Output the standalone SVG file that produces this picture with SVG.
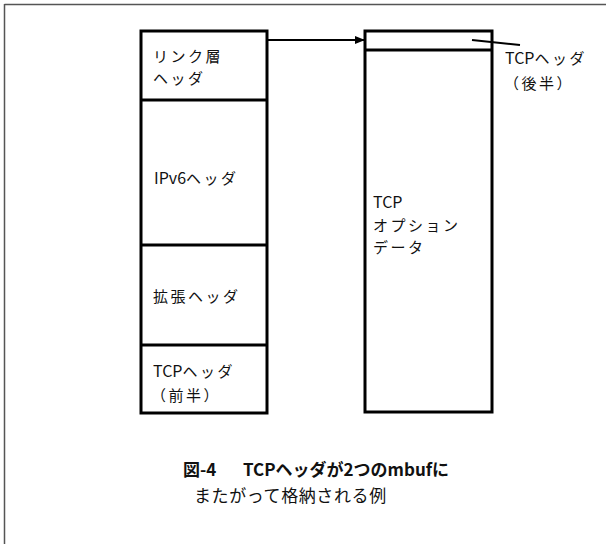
<svg xmlns="http://www.w3.org/2000/svg" width="610" height="544" viewBox="0 0 610 544">
<style>
.box{fill:#fff;stroke:#000;stroke-width:3}
.div{stroke:#000;stroke-width:3}
.t{font-family:"Noto Sans CJK JP","Noto Sans",sans-serif;font-size:15px;letter-spacing:2.5px;fill:#111}
.l{font-size:16px;letter-spacing:0}
.cap{font-family:"Noto Sans CJK JP","Liberation Sans",sans-serif;font-size:17px;fill:#111}
.b{font-weight:bold}
</style>
<defs>
<marker id="ah" markerWidth="10" markerHeight="8" refX="9" refY="4" orient="auto" markerUnits="userSpaceOnUse">
<path d="M0,0 L10,4 L0,8 Z" fill="#000"/>
</marker>
</defs>
<rect width="610" height="544" fill="#fff"/>
<g id="frame">
<line x1="4.5" y1="4.5" x2="606" y2="4.5" stroke="#555" stroke-width="1.5"/>
<line x1="4.5" y1="4" x2="4.5" y2="544" stroke="#555" stroke-width="1.5"/>
</g>
<g id="left-mbuf">
<rect class="box" x="141" y="31" width="126" height="382"/>
</g>
<g id="link-header">
<line class="div" x1="141" y1="100" x2="267" y2="100"/>
<text class="t" x="153" y="62">リンク層</text>
<text class="t" x="153" y="84">ヘッダ</text>
</g>
<g id="ipv6-header">
<line class="div" x1="141" y1="245" x2="267" y2="245"/>
<text class="t" x="154" y="184"><tspan class="l">IPv6</tspan>ヘッダ</text>
</g>
<g id="ext-header">
<line class="div" x1="141" y1="345" x2="267" y2="345"/>
<text class="t" x="153" y="302">拡張ヘッダ</text>
</g>
<g id="tcp-header-first">
<text class="t" x="153" y="377"><tspan class="l">TCP</tspan>ヘッダ</text>
<text class="t" x="151" y="401">（前半）</text>
</g>
<g id="right-mbuf">
<rect class="box" x="365" y="31" width="127" height="381"/>
<line class="div" x1="365" y1="50" x2="492" y2="50"/>
<text class="t" x="373" y="208"><tspan class="l">TCP</tspan></text>
<text class="t" x="373" y="231">オプション</text>
<text class="t" x="373" y="253">データ</text>
</g>
<g id="tcp-header-second">
<text class="t" x="505" y="64"><tspan class="l">TCP</tspan>ヘッダ</text>
<text class="t" x="504" y="89">（後半）</text>
</g>
<g id="connectors">
<line x1="268" y1="40" x2="364" y2="40" stroke="#000" stroke-width="2" marker-end="url(#ah)"/>
<line x1="472" y1="40" x2="520" y2="45" stroke="#000" stroke-width="2"/>
</g>
<g id="caption">
<text class="cap b" x="183" y="476">図-4</text>
<text class="cap b" x="243" y="476">TCPヘッダが2つのmbufに</text>
<text class="cap" x="194" y="502" letter-spacing="0.6">またがって格納される例</text>
</g>
</svg>
